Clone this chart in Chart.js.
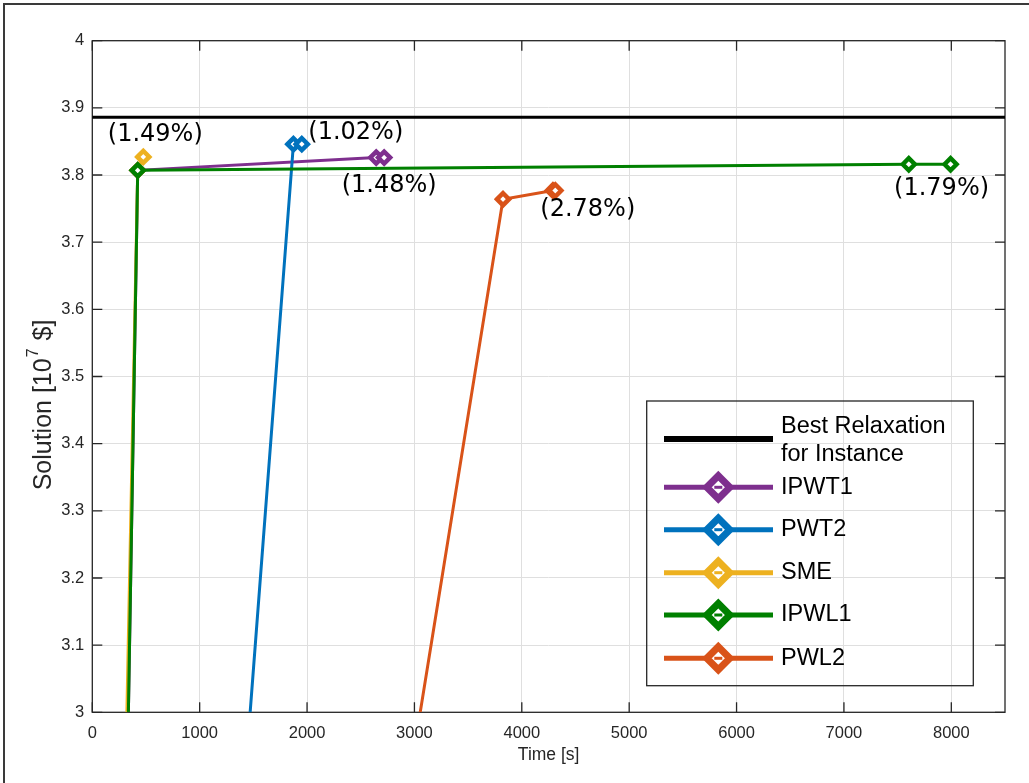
<!DOCTYPE html>
<html>
<head>
<meta charset="utf-8">
<script src="https://cdn.jsdelivr.net/npm/chart.js@4.4.1/dist/chart.umd.min.js"></script>
<style>
  html, body { margin: 0; padding: 0; background: #fff; }
  canvas { display: block; }
</style>
</head>
<body>
<canvas id="c" width="1029" height="783"></canvas>
<script>
// Solution value reached over run time, one series per formulation
const seriesNames = ['IPWT1', 'PWT2', 'SME', 'IPWL1', 'PWL2'];
const ipwt1Time  = [336, 423, 2644, 2718];
const ipwt1Value = [3.0, 3.807, 3.826, 3.826];
const pwt2Time   = [1470, 1873, 1951];
const pwt2Value  = [3.0, 3.846, 3.846];
const smeTime    = [322, 423, 475];
const smeValue   = [3.0, 3.807, 3.827];
const ipwl1Time  = [336, 423, 7604, 7993];
const ipwl1Value = [3.0, 3.807, 3.816, 3.816];
const pwl2Time   = [3054, 3825, 4290, 4312];
const pwl2Value  = [3.0, 3.764, 3.777, 3.777];
// optimality gap of each formulation's final solution
const gapLabels  = ['(1.48%)', '(1.02%)', '(1.49%)', '(1.79%)', '(2.78%)'];
const bestRelaxation = 3.886;
const relaxLabel = ['Best Relaxation', 'for Instance'];
const timeRange = [0, 8500];
const solutionRange = [3, 4];
const xTickValues = [0, 1000, 2000, 3000, 4000, 5000, 6000, 7000, 8000];
const yTickValues = [3, 3.1, 3.2, 3.3, 3.4, 3.5, 3.6, 3.7, 3.8, 3.9, 4];

const colors = ['#7E2F8E', '#0072BD', '#EDB120', '#008000', '#D95319'];
const times = [ipwt1Time, pwt2Time, smeTime, ipwl1Time, pwl2Time];
const values = [ipwt1Value, pwt2Value, smeValue, ipwl1Value, pwl2Value];
// where each gap label sits, in pixels from the series' last point
const gapOffsets = [[5, 28], [54, -11], [12, -22], [-9, 24], [32.5, 19]];

const AXIS = '#262626';
const FONT = '"Liberation Sans", Arial, sans-serif';

function pairs(xs, ys) { return xs.map((x, i) => ({ x: x, y: ys[i] })); }

const datasets = [{
  label: relaxLabel.join(' '),
  data: [{ x: timeRange[0], y: bestRelaxation }, { x: timeRange[1], y: bestRelaxation }],
  borderColor: '#000', borderWidth: 3, borderCapStyle: 'square',
  pointRadius: 0, showLine: true, order: 6
}];
seriesNames.forEach((name, i) => {
  datasets.push({
    label: name,
    data: pairs(times[i], values[i]),
    borderColor: colors[i],
    backgroundColor: '#fff',
    borderWidth: 3,
    showLine: true,
    pointStyle: 'rectRot',
    pointRadius: ctx => ctx.dataIndex === 0 ? 0 : 6,
    pointBorderWidth: 4.5,
    pointBorderColor: colors[i],
    pointBackgroundColor: '#fff',
    order: 5 - i
  });
});

// Box around the axes with inward ticks on all four sides
const axesBox = {
  id: 'axesBox',
  beforeDatasetsDraw(chart) {
    const { ctx, chartArea: a, scales: { x, y } } = chart;
    const tl = 10;
    ctx.save();
    ctx.strokeStyle = AXIS;
    ctx.lineWidth = 1.3;
    ctx.beginPath();
    x.ticks.forEach(t => {
      const px = x.getPixelForValue(t.value);
      ctx.moveTo(px, a.bottom); ctx.lineTo(px, a.bottom - tl);
      ctx.moveTo(px, a.top); ctx.lineTo(px, a.top + tl);
    });
    y.ticks.forEach(t => {
      const py = y.getPixelForValue(t.value);
      ctx.moveTo(a.left, py); ctx.lineTo(a.left + tl, py);
      ctx.moveTo(a.right, py); ctx.lineTo(a.right - tl, py);
    });
    ctx.stroke();
    ctx.strokeRect(a.left, a.top, a.right - a.left, a.bottom - a.top);
    ctx.restore();
  }
};

// Figure frame, y-axis title, gap labels and legend
const decorations = {
  id: 'decorations',
  beforeDraw(chart) {
    const { ctx } = chart;
    ctx.save();
    ctx.fillStyle = '#fff';
    ctx.fillRect(0, 0, chart.width, chart.height);
    ctx.strokeStyle = '#3a3a3a';
    ctx.lineWidth = 2;
    ctx.beginPath();
    ctx.moveTo(4, chart.height + 2); ctx.lineTo(4, 4); ctx.lineTo(chart.width + 2, 4);
    ctx.stroke();
    ctx.restore();
  },
  afterDatasetsDraw(chart) {
    const { ctx, chartArea: a, scales: { x, y } } = chart;
    ctx.save();

    // y-axis title with a superscript exponent
    const main = '25px ' + FONT;
    const sup = '16px ' + FONT;
    const p1 = 'Solution [10', p2 = '7', p3 = ' $]';
    ctx.font = main; const w1 = ctx.measureText(p1).width, w3 = ctx.measureText(p3).width;
    ctx.font = sup; const w2 = ctx.measureText(p2).width + 2;
    const total = w1 + w2 + w3;
    ctx.translate(44, 405);
    ctx.rotate(-Math.PI / 2);
    ctx.fillStyle = AXIS;
    ctx.textBaseline = 'middle';
    ctx.textAlign = 'left';
    let cx = -total / 2;
    ctx.font = main; ctx.fillText(p1, cx, 0); cx += w1;
    ctx.font = sup; ctx.fillText(p2, cx + 1, -10); cx += w2;
    ctx.font = main; ctx.fillText(p3, cx, 0);
    ctx.setTransform(1, 0, 0, 1, 0, 0);

    // gap labels next to each series' final solution
    ctx.font = '24px "DejaVu Sans", Verdana, sans-serif';
    ctx.fillStyle = '#000';
    ctx.textAlign = 'center';
    ctx.textBaseline = 'middle';
    seriesNames.forEach((name, i) => {
      const n = times[i].length - 1;
      const px = x.getPixelForValue(times[i][n]);
      const py = y.getPixelForValue(values[i][n]);
      ctx.fillText(gapLabels[i], px + gapOffsets[i][0], py + gapOffsets[i][1]);
    });

    // legend
    const box = { left: a.right - 358.3, right: a.right - 31.7, top: a.bottom - 311.3, bottom: a.bottom - 26.6 };
    ctx.strokeStyle = AXIS;
    ctx.lineWidth = 1.3;
    ctx.strokeRect(box.left, box.top, box.right - box.left, box.bottom - box.top);
    const lx0 = box.left + 17.3, lx1 = box.left + 126.3, mx = box.left + 71.6, tx = box.left + 134.3;
    ctx.font = '23.5px ' + FONT;
    ctx.textAlign = 'left';
    ctx.textBaseline = 'middle';
    // relaxation bound entry
    const ry = box.top + 38;
    ctx.strokeStyle = '#000'; ctx.lineWidth = 6;
    ctx.beginPath(); ctx.moveTo(lx0, ry); ctx.lineTo(lx1, ry); ctx.stroke();
    ctx.fillStyle = '#000';
    ctx.fillText(relaxLabel[0], tx, box.top + 25.7);
    ctx.fillText(relaxLabel[1], tx, box.top + 54);
    const rows = [86.3, 128.7, 171.7, 214, 257.3];
    seriesNames.forEach((name, i) => {
      const yy = box.top + rows[i];
      ctx.strokeStyle = colors[i]; ctx.lineWidth = 5;
      ctx.beginPath(); ctx.moveTo(lx0, yy); ctx.lineTo(lx1, yy); ctx.stroke();
      const r = 11.5;
      ctx.beginPath();
      ctx.moveTo(mx - r, yy); ctx.lineTo(mx, yy - r); ctx.lineTo(mx + r, yy); ctx.lineTo(mx, yy + r);
      ctx.closePath();
      ctx.fillStyle = '#fff'; ctx.fill();
      ctx.lineWidth = 7; ctx.stroke();
      ctx.lineWidth = 3;
      ctx.beginPath(); ctx.moveTo(mx - 4, yy); ctx.lineTo(mx + 4, yy); ctx.stroke();
      ctx.fillStyle = '#000';
      ctx.fillText(name, tx, yy);
    });
    ctx.restore();
  }
};

const fmt = v => String(Number(v.toFixed(1)));

new Chart(document.getElementById('c'), {
  type: 'scatter',
  data: { datasets: datasets },
  options: {
    responsive: false,
    animation: false,
    devicePixelRatio: 1,
    events: [],
    layout: { padding: { left: 0, top: 40.7, right: 24, bottom: 0 } },
    plugins: { legend: { display: false }, tooltip: { enabled: false } },
    scales: {
      x: {
        type: 'linear',
        min: timeRange[0], max: timeRange[1],
        afterBuildTicks(scale) { scale.ticks = xTickValues.map(v => ({ value: v })); },
        ticks: {
          padding: 11, autoSkip: false, maxRotation: 0,
          color: AXIS, font: { family: FONT, size: 16.5 },
          callback: v => String(v)
        },
        grid: { color: '#dfdfdf', lineWidth: 1, drawTicks: false },
        border: { display: false },
        title: {
          display: true, text: 'Time [s]', color: AXIS,
          font: { family: FONT, size: 17.5 },
          padding: { top: 0, bottom: 17.5 }
        },
        afterFit(scale) { scale.height = 70.7; }
      },
      y: {
        type: 'linear',
        min: solutionRange[0], max: solutionRange[1],
        afterBuildTicks(scale) { scale.ticks = yTickValues.map(v => ({ value: v })); },
        ticks: {
          padding: 8, autoSkip: false,
          color: AXIS, font: { family: FONT, size: 16.5 },
          callback: v => fmt(v)
        },
        grid: { color: '#dfdfdf', lineWidth: 1, drawTicks: false },
        border: { display: false },
        afterFit(scale) { scale.width = 92.3; }
      }
    }
  },
  plugins: [axesBox, decorations]
});
</script>
</body>
</html>
